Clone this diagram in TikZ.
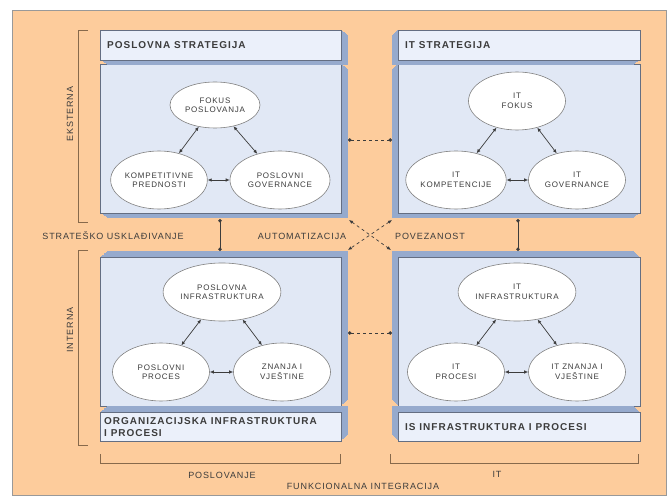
\documentclass[tikz,border=0pt]{standalone}
\usepackage{fontspec}
\setmainfont{Liberation Sans}[LetterSpace=10]
\usetikzlibrary{shapes.geometric,arrows.meta}

\definecolor{bgorange}{RGB}{253,204,156}
\definecolor{faceblue}{RGB}{225,232,245}
\definecolor{titleblue}{RGB}{235,240,250}
\definecolor{sideblue}{RGB}{150,170,205}
\definecolor{edgegray}{RGB}{100,110,130}
\definecolor{inkgray}{RGB}{60,60,60}
\definecolor{brackbrown}{RGB}{135,105,75}

\tikzset{
  slabface/.style={draw=edgegray, line width=0.6pt, inner sep=0pt},
  slabtitle/.style={anchor=west, align=left, text=inkgray, inner sep=0pt,
    font=\fontsize{10}{12}\selectfont\bfseries},
  bubble/.style={ellipse, draw=gray, fill=white, line width=0.6pt, inner sep=0pt,
    minimum width=97pt, minimum height=58pt, align=center, text=inkgray,
    font=\fontsize{8}{9.5}\selectfont},
  pairarrow/.style={{Latex[length=4pt,width=3.5pt]}-{Latex[length=4pt,width=3.5pt]},
    line width=0.7pt, inkgray},
  dotlink/.style={{Circle[length=3.5pt]}-{Circle[length=3.5pt]}, line width=0.7pt, inkgray},
  crosslink/.style={{Latex[length=4pt,width=3.5pt]}-{Latex[length=4pt,width=3.5pt]},
    dashed, line width=0.7pt, inkgray},
  bracket/.style={brackbrown, line width=0.9pt},
  sidelabel/.style={text=inkgray, inner sep=1pt, font=\fontsize{9}{10}\selectfont}
}

\newcommand{\caps}[1]{\uppercase{#1}}

\newcommand{\slab}[8]{%
  \foreach \t in {0.1,0.2,...,1.0}
    \fill[sideblue] ({#2+\t*(#6)},{#3+\t*(#7)}) rectangle ++(#4,#5);
  \node[slabface, fill=#8, minimum width=#4pt, minimum height=#5pt,
    anchor=north west] (#1) at (#2,#3) {};
}

\begin{document}
\begin{tikzpicture}[x=1pt, y=-1pt]
  \useasboundingbox (0,0) rectangle (670,497);
  \fill[white] (0,0) rectangle (670,497);
  \draw[fill=bgorange, draw=gray!80] (12,10) rectangle (666,495);

  \slab{psBody}{100}{64}{241}{149}{7}{5}{faceblue}
  \slab{psTitle}{100}{30}{241}{30}{7}{5}{titleblue}
  \slab{itBody}{398}{64}{242}{149}{-6}{5}{faceblue}
  \slab{itTitle}{398}{30}{242}{30}{-6}{5}{titleblue}
  \slab{oiBody}{100}{257}{241}{149}{7}{-6}{faceblue}
  \slab{oiTitle}{100}{412}{241}{29}{7}{-6}{titleblue}
  \slab{isBody}{398}{257}{242}{149}{-6}{-6}{faceblue}
  \slab{isTitle}{398}{412}{242}{29}{-6}{-6}{titleblue}

  \node[slabtitle] (psText) at ([xshift=7pt]psTitle.west) {\caps{POSLOVNA STRATEGIJA}};
  \node[slabtitle] (itText) at ([xshift=7pt]itTitle.west) {\caps{IT STRATEGIJA}};
  \node[slabtitle] (oiText) at ([xshift=4pt]oiTitle.west) {\caps{ORGANIZACIJSKA INFRASTRUKTURA\\I PROCESI}};
  \node[slabtitle] (isText) at ([xshift=7pt]isTitle.west) {\caps{IS INFRASTRUKTURA I PROCESI}};

  \node[bubble, minimum width=90pt, minimum height=46pt] (fokusPos) at (215,105) {\caps{FOKUS\\POSLOVANJA}};
  \node[bubble, minimum width=94pt] (kompPred) at (159,180) {\caps{KOMPETITIVNE\\PREDNOSTI}};
  \node[bubble, minimum width=100pt] (posGov) at (280,180) {\caps{POSLOVNI\\GOVERNANCE}};
  \draw[pairarrow] (fokusPos) -- (kompPred);
  \draw[pairarrow] (fokusPos) -- (posGov);
  \draw[pairarrow] (kompPred) -- (posGov);

  \node[bubble] (itFokus) at (517,101) {\caps{IT\\FOKUS}};
  \node[bubble] (itKomp) at (456,180) {\caps{IT\\KOMPETENCIJE}};
  \node[bubble] (itGov) at (577,180) {\caps{IT\\GOVERNANCE}};
  \draw[pairarrow] (itFokus) -- (itKomp);
  \draw[pairarrow] (itFokus) -- (itGov);
  \draw[pairarrow] (itKomp) -- (itGov);

  \node[bubble] (posInfra) at (222,292) {\caps{POSLOVNA\\INFRASTRUKTURA}};
  \node[bubble] (posProc) at (161,372) {\caps{POSLOVNI\\PROCES}};
  \node[bubble] (znanja) at (282,372) {\caps{ZNANJA I\\VJEŠTINE}};
  \draw[pairarrow] (posInfra) -- (posProc);
  \draw[pairarrow] (posInfra) -- (znanja);
  \draw[pairarrow] (posProc) -- (znanja);

  \node[bubble] (itInfra) at (517,292) {\caps{IT\\INFRASTRUKTURA}};
  \node[bubble] (itProc) at (456,372) {\caps{IT\\PROCESI}};
  \node[bubble] (itZnanja) at (577,372) {\caps{IT ZNANJA I\\VJEŠTINE}};
  \draw[pairarrow] (itInfra) -- (itProc);
  \draw[pairarrow] (itInfra) -- (itZnanja);
  \draw[pairarrow] (itProc) -- (itZnanja);

  \coordinate (vlTop) at (220,219);
  \coordinate (vlBot) at (220,251);
  \coordinate (vrTop) at (518,219);
  \coordinate (vrBot) at (518,251);
  \coordinate (htLeft) at (348,140);
  \coordinate (htRight) at (392,140);
  \coordinate (hbLeft) at (348,333);
  \coordinate (hbRight) at (392,333);
  \coordinate (xTL) at (349,220);
  \coordinate (xTR) at (392,220);
  \coordinate (xBL) at (348,250);
  \coordinate (xBR) at (391,250);
  \draw[dotlink] (vlTop) -- (vlBot);
  \draw[dotlink] (vrTop) -- (vrBot);
  \draw[dotlink, dashed] (htLeft) -- (htRight);
  \draw[dotlink, dashed] (hbLeft) -- (hbRight);
  \draw[crosslink] (xTL) -- (xBR);
  \draw[crosslink] (xTR) -- (xBL);

  \draw[bracket] (88,30) -- (78,30) -- (78,222) -- (88,222);
  \draw[bracket] (88,250) -- (78,250) -- (78,445) -- (88,445);
  \draw[bracket] (100,454) -- (100,463) -- (340,463) -- (340,454);
  \draw[bracket] (390,454) -- (390,463) -- (638,463) -- (638,454);

  \node[sidelabel, rotate=90] (ekst) at (70,114) {\caps{EKSTERNA}};
  \node[sidelabel, rotate=90] (inter) at (70,330) {\caps{INTERNA}};
  \node[sidelabel] (strat) at (113,236) {\caps{STRATEŠKO USKLAĐIVANJE}};
  \node[sidelabel] (autom) at (302,236) {\caps{AUTOMATIZACIJA}};
  \node[sidelabel] (povez) at (430,236) {\caps{POVEZANOST}};
  \node[sidelabel] (poslov) at (222,475) {\caps{POSLOVANJE}};
  \node[sidelabel] (itLab) at (497,474) {\caps{IT}};
  \node[sidelabel] (funk) at (363,486) {\caps{FUNKCIONALNA INTEGRACIJA}};
\end{tikzpicture}
\end{document}
